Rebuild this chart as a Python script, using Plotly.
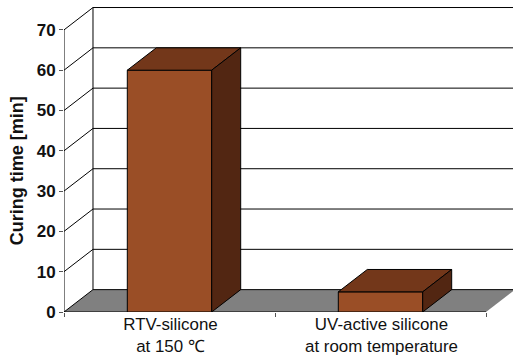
import plotly.graph_objects as go

categories = ["RTV-silicone<br>at 150 ℃", "UV-active silicone<br>at room temperature"]
curing_time = [60, 5]
y_ticks = [0, 10, 20, 30, 40, 50, 60, 70]
y_title = "Curing time [min]"

# Oblique 3D look, in axis units
DX = 0.1374
DY = 5.55
BAR_W = 0.4
X0, X1 = -0.5, 1.5
YMAX = y_ticks[-1]
XR = [-0.5, -0.5 + 449 / 211]
YR = [0, 305 / 4.03]

FRONT, TOP, SIDE, FLOOR = "#9A4E26", "#73371A", "#522612", "#808080"
shapes = []


def line(x0, y0, x1, y1):
    return dict(type="line", x0=x0, y0=y0, x1=x1, y1=y1, layer="below",
                line=dict(color="black", width=1))


shapes.append(dict(type="path",
                   path=f"M {X0},0 L {X1},0 L {X1+DX},{DY} L {X0+DX},{DY} Z",
                   fillcolor=FLOOR, layer="below", line=dict(width=0)))
for t in y_ticks:
    shapes.append(line(X0, t, X0 + DX, t + DY))
    shapes.append(line(X0 + DX, t + DY, XR[1], t + DY))
shapes.append(line(X0, 0, X0, YMAX))
shapes.append(line(X0 + DX, DY, X0 + DX, YMAX + DY))
shapes.append(line(X0, 0, X1, 0))

fig = go.Figure()
fig.add_trace(go.Bar(x=[0, 1], y=curing_time, width=BAR_W,
                     marker=dict(color=FRONT, line=dict(color="black", width=1)),
                     hoverinfo="skip"))

for i, v in enumerate(curing_time):
    l, r = i - BAR_W / 2, i + BAR_W / 2
    fig.add_trace(go.Scatter(x=[l, r, r + DX, l + DX, l],
                             y=[v, v, v + DY, v + DY, v],
                             mode="lines", fill="toself", fillcolor=TOP,
                             line=dict(color="black", width=1), hoverinfo="skip"))
    fig.add_trace(go.Scatter(x=[r, r + DX, r + DX, r, r],
                             y=[0, DY, v + DY, v, 0],
                             mode="lines", fill="toself", fillcolor=SIDE,
                             line=dict(color="black", width=1), hoverinfo="skip"))

fig.update_layout(
    width=513, height=355,
    margin=dict(l=64, r=0, t=7, b=43),
    paper_bgcolor="white", plot_bgcolor="white",
    showlegend=False, shapes=shapes,
    font=dict(family="Liberation Sans, Arial, sans-serif", color="#111111"),
    annotations=[dict(text=y_title, textangle=-90, showarrow=False,
                      xref="paper", x=-47 / 449, xanchor="center",
                      yref="y", y=34.9, yanchor="middle",
                      font=dict(size=18, weight="bold"))],
    xaxis=dict(range=XR, tickmode="array", tickvals=[0, 1], ticktext=categories,
               ticks="", showgrid=False, zeroline=False, showline=False,
               automargin=False,
               tickfont=dict(size=16.9), ticklabelstandoff=0, ticklabelshift=1,
               minor=dict(tickmode="array", tickvals=[X0, 0.5, X1],
                          ticks="outside", ticklen=4, tickcolor="#555555",
                          tickwidth=1, showgrid=False)),
    yaxis=dict(range=YR, tickmode="array", tickvals=y_ticks,
               ticks="outside", ticklen=4, tickcolor="#555555", showgrid=False,
               zeroline=False, showline=False, automargin=False,
               tickfont=dict(size=17, weight="bold")),
)
fig.write_html("out.html", config=dict(displayModeBar=False),
               post_script="document.body.style.margin='0';")
